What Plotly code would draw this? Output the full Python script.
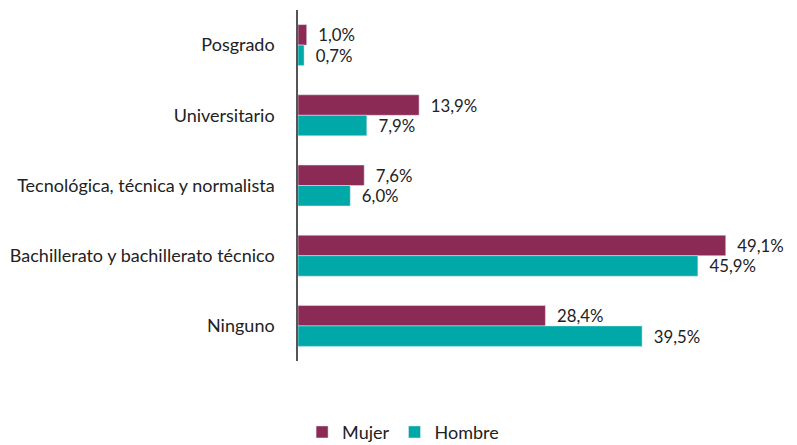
import plotly.graph_objects as go

categories = ["Posgrado", "Universitario", "Tecnológica, técnica y normalista",
              "Bachillerato y bachillerato técnico", "Ninguno"]
mujer = [1.0, 13.9, 7.6, 49.1, 28.4]
hombre = [0.7, 7.9, 6.0, 45.9, 39.5]

def fmt(v):
    return "\u00a0\u00a0" + f"{v:.1f}%".replace(".", ",")

fig = go.Figure()
fig.add_trace(go.Bar(y=categories, x=mujer, name="Mujer", orientation="h",
                     marker=dict(color="#8C2A56"), text=[fmt(v) for v in mujer],
                     textposition="outside", cliponaxis=False))
fig.add_trace(go.Bar(y=categories, x=hombre, name="Hombre", orientation="h",
                     marker=dict(color="#00A8A8"), text=[fmt(v) for v in hombre],
                     textposition="outside", cliponaxis=False))

# page body has an 8px margin, so the figure is 8px smaller and shifted
fig.update_layout(
    width=789, height=437,
    margin=dict(l=290, r=46, t=2, b=84, autoexpand=False),
    barmode="group", bargap=0.416, bargroupgap=0,
    plot_bgcolor="white", paper_bgcolor="white",
    font=dict(family="Lato", size=18, color="#222222"),
    legend=dict(orientation="h", x=0.232, xanchor="center", y=-0.203, yanchor="middle",
                font=dict(size=18), traceorder="normal", itemwidth=30),
    xaxis=dict(range=[0, 52], visible=False, showgrid=False, zeroline=False, automargin=False),
    yaxis=dict(autorange="reversed", showline=True, linecolor="#555555", linewidth=1.5,
               ticks="", showgrid=False, ticklabelstandoff=18, automargin=False,
               tickfont=dict(size=18)),
)
fig.update_traces(textfont=dict(size=18, color="#222222", family="Lato"))
fig.write_html("out.html")
